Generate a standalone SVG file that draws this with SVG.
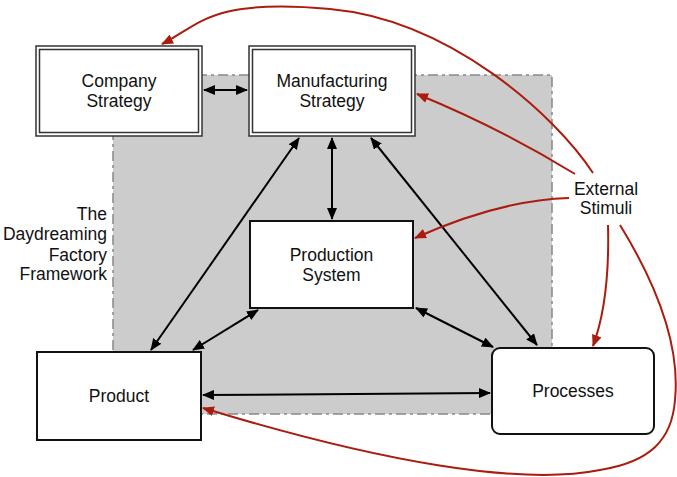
<svg xmlns="http://www.w3.org/2000/svg" width="677" height="477" viewBox="0 0 677 477">
<defs>
<style>
text{font-family:"Liberation Sans",Arial,sans-serif;font-size:17.5px;fill:#111}
.box{fill:#fff;stroke:#111;stroke-width:2}
.dbl{fill:#fff;stroke:#333;stroke-width:1.5}
.blk{fill:none;stroke:#000;stroke-width:2;marker-start:url(#ab);marker-end:url(#ab)}
.red{fill:none;stroke:#ab1c0e;stroke-width:2;marker-end:url(#ar)}
</style>
<marker id="ab" viewBox="0 0 12 10" refX="11" refY="5" markerWidth="12" markerHeight="10" markerUnits="userSpaceOnUse" orient="auto-start-reverse"><path d="M0,0 L12,5 L0,10 Z" fill="#000"/></marker>
<marker id="ar" viewBox="0 0 12 10" refX="11" refY="5" markerWidth="12" markerHeight="10" markerUnits="userSpaceOnUse" orient="auto"><path d="M0,0 L12,5 L0,10 Z" fill="#ab1c0e"/></marker>
</defs>
<g id="framework">
<rect x="113" y="75" width="439" height="339" fill="#cccccc" stroke="#888" stroke-width="1.5" stroke-dasharray="10 4 3 4"/>
<text text-anchor="end" x="107" y="220">The</text>
<text text-anchor="end" x="107" y="240">Daydreaming</text>
<text text-anchor="end" x="107" y="261">Factory</text>
<text text-anchor="end" x="107" y="280">Framework</text>
</g>
<g id="company-strategy">
<rect class="dbl" x="36" y="46" width="166" height="90"/>
<rect class="dbl" x="39.5" y="49.5" width="159" height="83"/>
<text text-anchor="middle" x="119" y="87">Company</text>
<text text-anchor="middle" x="119" y="107">Strategy</text>
</g>
<g id="manufacturing-strategy">
<rect class="dbl" x="249" y="46" width="166" height="90"/>
<rect class="dbl" x="252.5" y="49.5" width="159" height="83"/>
<text text-anchor="middle" x="332" y="87">Manufacturing</text>
<text text-anchor="middle" x="332" y="107">Strategy</text>
</g>
<g id="production-system">
<rect class="box" x="250" y="221" width="163" height="87"/>
<text text-anchor="middle" x="331.5" y="261">Production</text>
<text text-anchor="middle" x="331.5" y="281">System</text>
</g>
<g id="product">
<rect class="box" x="37" y="352" width="164" height="88"/>
<text text-anchor="middle" x="119" y="402">Product</text>
</g>
<g id="processes">
<rect class="box" x="492" y="348" width="162" height="86" rx="8"/>
<text text-anchor="middle" x="573" y="397">Processes</text>
</g>
<g id="external-stimuli">
<text text-anchor="middle" x="606" y="195">External</text>
<text text-anchor="middle" x="606" y="214">Stimuli</text>
</g>
<g id="connectors">
<line class="blk" x1="204" y1="90" x2="247" y2="90"/>
<line class="blk" x1="332" y1="138" x2="332" y2="219"/>
<line class="blk" x1="299" y1="138" x2="151" y2="350"/>
<line class="blk" x1="371" y1="138" x2="537" y2="345"/>
<line class="blk" x1="258" y1="310" x2="193" y2="350"/>
<line class="blk" x1="416" y1="308" x2="493" y2="347"/>
<line class="blk" x1="203" y1="395" x2="490" y2="393"/>
<path class="red" d="M593,173 C555,115 450,20 330,9 S200,25 162,44"/>
<path class="red" d="M575,174 Q500,128 417,94"/>
<path class="red" d="M569,198 Q500,200 415,238"/>
<path class="red" d="M608,225 Q610,300 593,346"/>
<path class="red" d="M620,225 C660,290 680,350 675,400 C672,440 650,462 600,470 C520,486 380,462 203,408"/>
</g>
</svg>
